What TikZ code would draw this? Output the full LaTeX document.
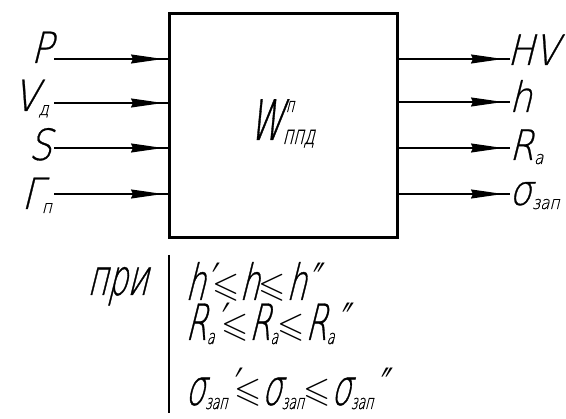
\documentclass[tikz,border=0pt]{standalone}
\usepackage{amssymb}
\usepackage{graphicx}
\usepackage{fontspec}
\setmainfont{DejaVu Sans ExtraLight}[FakeSlant=0.25,FakeStretch=0.62,FakeBold=0.6]
\newfontfamily\sidefont{DejaVu Sans ExtraLight}[FakeSlant=0.25,FakeStretch=0.85,FakeBold=0.6]
\newfontfamily\symfont{DejaVu Sans}[FakeSlant=0.25,FakeStretch=0.55]
\usetikzlibrary{arrows.meta}
\tikzset{
  blockbox/.style={draw,line width=3pt,inner sep=0pt,anchor=north west},
  sig/.style={line width=1.2pt},
  sigtip/.style={line width=1.2pt,-{Stealth[length=32pt,width=9pt,inset=2pt]}},
  inlbl/.style={font=\sidefont\fontsize{43}{43}\selectfont,inner sep=0pt,anchor=base east},
  outlbl/.style={font=\sidefont\fontsize{42}{42}\selectfont,inner sep=0pt,anchor=base west},
  condtxt/.style={font=\fontsize{50}{50}\selectfont,inner sep=0pt,anchor=base west}
}
\newcommand{\lowidx}[2][18]{\raisebox{-4pt}{\fontsize{#1}{#1}\selectfont #2}}
\newcommand{\lesym}{\raisebox{3pt}{\scalebox{3.5}{\fontsize{10}{12}\selectfont$\leqslant$}}}
\newcommand{\prm}{{\kern1pt\symfont ′}}
\newcommand{\dprm}{{\kern1pt\symfont ″}}

\begin{document}
\begin{tikzpicture}[x=1pt,y=-1pt]
  \useasboundingbox (0,0) rectangle (566,419);
  % block
  \node[blockbox,minimum width=228pt,minimum height=224pt] (box) at (168,12) {};
  \node[font=\fontsize{56}{56}\selectfont,inner sep=0pt,anchor=base west] (w) at (248,140)
    {W\makebox[0pt][l]{\raisebox{28pt}{\fontsize{20}{20}\selectfont\,п}}\lowidx[26]{ппд}};

  % inputs
  \foreach \y/\n in {59/P,103/V,148/S,194/G}{
    \coordinate (in\n) at (54,\y);
    \draw[sig] (in\n) -- (in\n -| box.west);
    \draw[sigtip,shorten >=5pt] (in\n) -- (in\n -| box.west);
  }
  \node[inlbl] (lP) at (53,63) {P};
  \node[inlbl] (lV) at (49,111) {V\lowidx{д}};
  \node[inlbl] (lS) at (52,160) {S};
  \node[inlbl] (lG) at (52,209) {Г\lowidx{п}};

  % outputs
  \foreach \y/\n in {59/HV,102/h,148/R,194/s}{
    \coordinate (out\n) at (510,\y);
    \draw[sig] (box.east |- out\n) -- (out\n);
    \draw[sigtip,shorten >=7pt] (box.east |- out\n) -- (out\n);
  }
  \node[outlbl] (rHV) at (507,65) {HV};
  \node[outlbl] (rh) at (509,112) {h};
  \node[outlbl] (rR) at (509,160) {R\lowidx{a}};
  \node[outlbl] (rs) at (509,205) {σ\lowidx{зап}};

  % conditions
  \coordinate (bart) at (169,255);
  \coordinate (barb) at (169,413);
  \draw[line width=2pt] (bart) -- (barb);
  \node[condtxt] (pri) at (87,295) {при};
  \node[condtxt] (c1) at (185,300) {h\prm\lesym h\lesym h\dprm};
  \node[condtxt] (c2) at (185,340) {R\lowidx[20]{a}\prm\lesym R\lowidx[20]{a}\lesym R\lowidx[20]{a}\dprm};
  \node[condtxt] (c3) at (185,405) {σ\lowidx[20]{зап}\prm\lesym σ\lowidx[20]{зап}\lesym σ\lowidx[20]{зап}\dprm};
\end{tikzpicture}
\end{document}
